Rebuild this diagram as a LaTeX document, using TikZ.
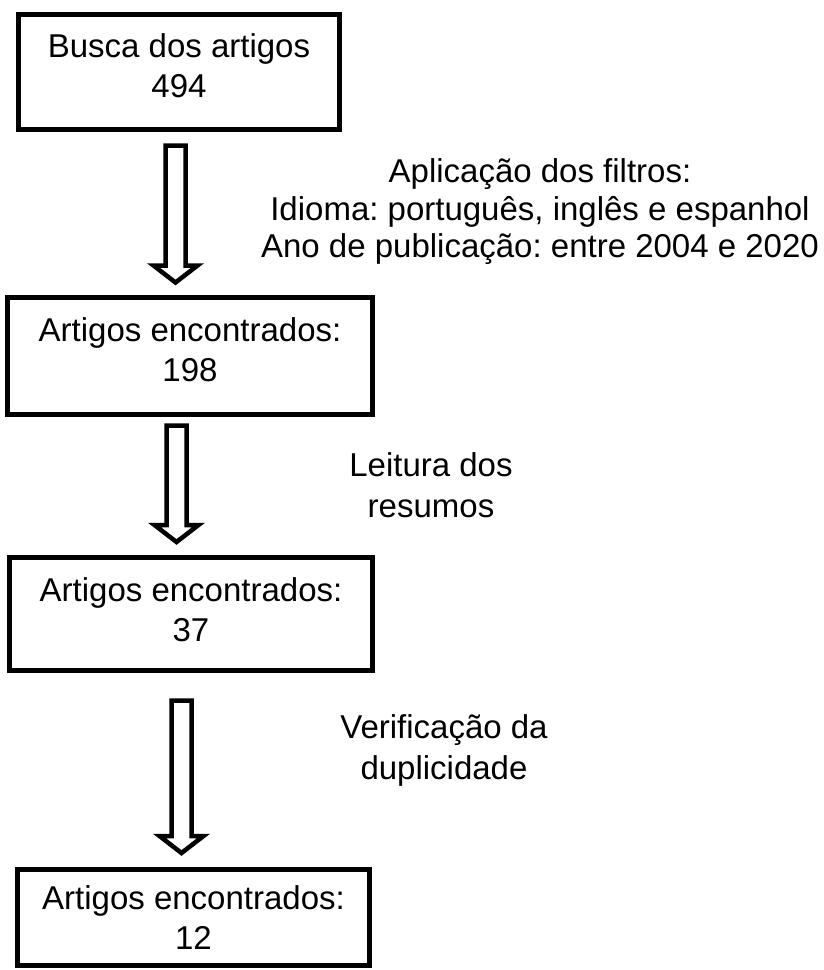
\documentclass[tikz,border=0pt]{standalone}
\usepackage{fontspec}
\setmainfont{Liberation Sans}
\frenchspacing
\usetikzlibrary{positioning,calc}

\tikzset{
  caixa/.style={draw, line width=5pt, align=center, inner sep=0pt, font=\fontsize{33}{40}\selectfont},
  rotulo/.style={align=center, inner sep=0pt, font=\fontsize{33}{41}\selectfont},
  seta/.style={line width=4.5pt, line join=miter},
}

% seta vazada de #1 ate #2
\newcommand{\setabloco}[2]{%
  \draw[seta] ($(#1)+(-10,0)$) -- ($(#2)+(-10,-17)$) -- ($(#2)+(-22,-17)$) -- (#2)
    -- ($(#2)+(22,-17)$) -- ($(#2)+(10,-17)$) -- ($(#1)+(10,0)$) -- cycle;}

\begin{document}
\begin{tikzpicture}[x=1pt, y=-1pt]
  \fill[white] (0,0) rectangle (824,970);
  \useasboundingbox (0,0) rectangle (824,970);

  % Caixas
  \node[caixa, minimum width=321pt, minimum height=115pt, text depth=12pt] (busca) at (179,72) {Busca dos artigos\\494};
  \node[caixa, minimum width=365pt, minimum height=117pt, text depth=12pt] (encontrados1) at (190,356) {Artigos encontrados:\\198};
  \node[caixa, minimum width=363pt, minimum height=113pt, text depth=8pt] (encontrados2) at (191,614) {Artigos encontrados:\\37};
  \node[caixa, minimum width=352pt, minimum height=96pt] (encontrados3) at (193.5,917.5) {Artigos encontrados:\\12};

  % Etapas
  \node[rotulo, font=\fontsize{33}{37.5}\selectfont] (filtros) at (540,212)
    {Aplicação dos filtros:\\Idioma: português, inglês e espanhol\\Ano de publicação: entre 2004 e 2020};
  \node[rotulo] (leitura) at (431,485.5) {Leitura dos\\resumos};
  \node[rotulo] (verificacao) at (444,750) {Verificação da\\duplicidade};

  % Setas
  \coordinate (ini1) at (175.5,145.5);
  \coordinate (fim1) at (175.5,282.5);
  \coordinate (ini2) at (176.5,425.5);
  \coordinate (fim2) at (176.5,542);
  \coordinate (ini3) at (181.5,700.5);
  \coordinate (fim3) at (181.5,853);
  \setabloco{ini1}{fim1}
  \setabloco{ini2}{fim2}
  \setabloco{ini3}{fim3}
\end{tikzpicture}
\end{document}
